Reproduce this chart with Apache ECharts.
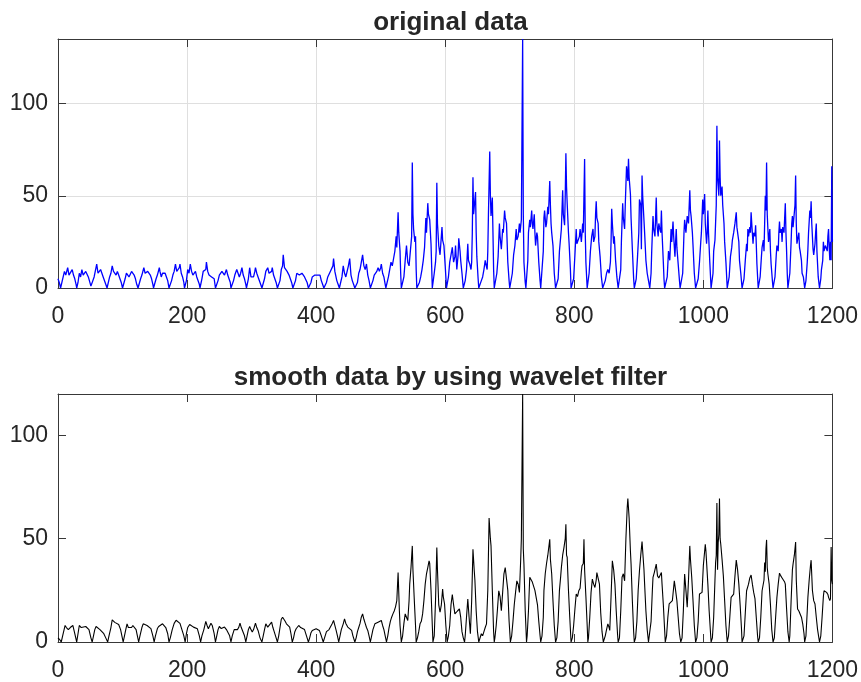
<!DOCTYPE html>
<html><head><meta charset="utf-8">
<script src="https://cdn.jsdelivr.net/npm/echarts@6/dist/echarts.min.js"></script>
<style>html,body{margin:0;padding:0;background:#fff}#c{width:861px;height:682px}</style>
</head><body><div id="c"></div>
<script>
// ---------- data ----------
const titles = ['original data', 'smooth data by using wavelet filter'];
const xTicks = [0, 200, 400, 600, 800, 1000, 1200];
const yTicksTop = [0, 50, 100];
const yTicksBottom = [0, 50, 100];
const yLimitTop = 135;
const yLimitBottom = 120;

const originalData = [
[0,5],[2,3],[4,0],[6,0],[8,6],[10,9],[12,7],[14,8],[15,11],[17,7],[18,6],[20,8],[22,10],[24,7],[26,5],[28,2],[29,0],
[30,0],[31,3],[33,8],[35,6],[37,10],[39,7],[41,7],[43,9],[45,9],[47,6],[49,5],[51,1],[53,0],
[54,0],[56,6],[58,7],[60,13],[62,8],[64,7],[66,10],[68,9],[70,6],[72,5],[74,2],[76,0],
[78,0],[80,6],[82,8],[84,12],[86,9],[88,9],[90,7],[92,9],[94,7],[96,5],[98,3],[100,0],
[102,0],[104,5],[106,8],[108,8],[110,6],[112,7],[114,9],[116,9],[118,7],[120,5],[122,2],[124,0],
[126,0],[128,5],[130,7],[133,11],[135,8],[137,8],[139,9],[141,10],[143,7],[145,5],[147,2],[148,0],
[150,0],[152,5],[154,7],[157,11],[158,9],[160,6],[162,8],[164,9],[166,8],[168,6],[170,4],[172,0],
[174,0],[176,4],[178,7],[180,9],[182,13],[184,9],[186,9],[188,11],[189,13],[191,8],[193,6],[195,3],[196,0],
[198,0],[199,4],[201,10],[203,8],[205,13],[207,9],[209,7],[211,8],[213,9],[215,6],[217,5],[219,2],[220,0],
[222,0],[223,5],[225,9],[227,8],[229,10],[230,14],[232,9],[234,7],[236,8],[238,6],[240,7],[242,5],[244,0],
[246,0],[248,4],[250,7],[252,6],[254,9],[256,8],[258,7],[260,8],[261,10],[263,7],[265,5],[267,3],[268,0],
[270,0],[272,4],[274,7],[277,10],[279,8],[281,6],[283,8],[285,11],[287,7],[289,5],[291,2],[292,0],
[294,0],[295,5],[297,11],[299,6],[301,7],[303,6],[305,9],[306,11],[308,8],[310,6],[312,5],[314,2],[316,0],
[318,0],[320,5],[322,9],[324,8],[325,11],[327,8],[329,8],[331,9],[332,11],[334,7],[336,6],[338,3],[340,0],
[342,0],[344,4],[346,10],[348,12],[349,18],[351,11],[353,10],[355,9],[356,10],[358,7],[360,6],[362,3],[364,0],
[366,0],[368,4],[370,8],[372,7],[374,7],[376,6],[378,8],[380,7],[382,6],[384,5],[386,3],[388,0],
[390,0],[392,3],[394,6],[396,5],[398,7],[400,8],[402,7],[404,6],[406,7],[408,4],[410,2],[412,0],
[414,0],[416,3],[418,6],[420,5],[422,9],[424,10],[426,12],[427,16],[429,9],[430,8],[432,4],[434,2],[436,0],
[438,0],[440,6],[442,12],[444,8],[446,6],[448,9],[450,12],[452,16],[454,7],[456,4],[458,2],[460,0],
[462,0],[464,3],[466,8],[468,10],[470,11],[472,18],[474,12],[476,10],[478,13],[480,7],[482,4],[484,0],
[486,0],[488,4],[490,7],[492,6],[494,9],[496,11],[498,9],[500,11],[501,13],[503,8],[505,6],[507,2],[508,0],
[510,0],[512,6],[514,10],[516,14],[518,12],[520,16],[522,20],[524,28],[525,22],[527,41],[528,30],[530,20],[531,8],[532,0],
[534,0],[536,6],[538,15],[540,23],[542,14],[544,12],[546,20],[548,28],[549,68],[550,40],[551,32],[553,25],[554,28],[555,10],[556,0],
[558,0],[560,3],[562,6],[564,10],[566,15],[568,22],[570,38],[571,30],[573,46],[574,40],[576,37],[578,24],[579,12],[580,0],
[582,0],[583,8],[585,14],[586,20],[587,57],[588,35],[590,23],[592,18],[593,17],[595,33],[596,26],[598,23],[600,12],[602,0],
[604,0],[605,6],[607,14],[609,18],[611,22],[613,14],[615,17],[616,23],[618,10],[620,18],[621,27],[623,20],[624,15],[626,8],[628,0],
[630,0],[631,4],[633,10],[635,24],[636,15],[638,13],[640,10],[641,14],[642,30],[643,60],[644,40],[645,39],[647,52],[648,30],[649,17],[651,5],[652,0],
[654,0],[656,4],[658,6],[660,10],[662,15],[663,13],[665,10],[666,20],[667,40],[669,74],[670,50],[671,39],[673,49],[674,30],[675,10],[676,0],
[678,0],[680,8],[682,17],[684,35],[685,28],[687,21],[689,32],[690,30],[692,42],[693,38],[695,35],[697,14],[699,4],[700,0],
[702,0],[704,8],[706,18],[708,23],[710,32],[711,26],[713,28],[715,35],[716,30],[718,37],[720,135],[721,40],[722,14],[724,3],[725,0],
[726,0],[728,15],[729,30],[731,37],[732,33],[734,42],[735,35],[736,32],[738,40],[739,30],[740,23],[742,30],[743,28],[745,14],[747,4],[748,0],
[750,0],[752,20],[753,38],[754,42],[756,33],[757,35],[759,44],[760,40],[762,58],[763,45],[764,35],[765,30],[767,23],[769,8],[771,0],
[773,0],[775,5],[777,20],[779,28],[780,32],[782,53],[783,40],[785,34],[786,50],[787,73],[788,55],[789,46],[791,30],[792,24],[794,10],[795,0],
[797,0],[799,5],[801,18],[803,32],[804,24],[806,23],[808,28],[809,32],[811,25],[813,35],[814,30],[815,50],[816,70],[817,30],[818,14],[820,0],
[821,0],[823,8],[825,20],[827,28],[829,32],[830,25],[832,28],[833,40],[834,47],[835,38],[837,35],[838,25],[840,17],[842,6],[844,0],
[846,0],[848,4],[850,8],[852,10],[854,8],[856,14],[857,25],[858,43],[859,35],[861,24],[862,28],[864,15],[866,6],[868,0],
[870,0],[872,10],[873,25],[875,46],[876,38],[878,32],[879,45],[881,66],[883,58],[884,70],[885,60],[887,51],[888,38],[890,21],[892,5],[893,0],
[894,0],[896,5],[898,17],[900,30],[901,48],[903,45],[904,21],[905,61],[906,50],[908,50],[909,30],[911,15],[913,8],[915,4],[917,0],
[918,0],[919,8],[920,20],[922,39],[923,32],[925,28],[926,38],[927,49],[928,35],[930,28],[931,35],[932,33],[934,30],[935,42],[936,30],[938,14],[939,5],[940,0],
[942,0],[944,6],[946,20],[948,15],[950,32],[951,25],[953,36],[954,28],[956,17],[957,25],[958,32],[959,22],[961,13],[963,4],[964,0],
[966,0],[968,8],[970,30],[971,37],[973,30],[975,39],[977,35],[979,53],[980,42],[981,39],[983,30],[984,23],[986,8],[988,0],
[990,0],[992,5],[994,14],[996,25],[997,30],[999,48],[1000,40],[1002,51],[1003,35],[1005,24],[1006,30],[1007,42],[1008,30],[1010,14],[1012,0],
[1014,0],[1015,8],[1016,20],[1018,26],[1020,45],[1021,88],[1022,60],[1023,59],[1024,50],[1025,80],[1026,60],[1027,50],[1029,55],[1030,45],[1032,35],[1033,25],[1035,14],[1037,0],
[1038,0],[1040,6],[1042,17],[1044,22],[1045,26],[1047,30],[1049,35],[1051,41],[1052,33],[1054,32],[1055,25],[1056,15],[1058,8],[1060,0],
[1062,0],[1063,5],[1065,15],[1067,24],[1068,20],[1069,32],[1070,28],[1072,33],[1073,30],[1074,41],[1075,35],[1077,24],[1078,30],[1080,28],[1081,34],[1082,24],[1083,13],[1085,0],
[1086,0],[1088,6],[1090,17],[1091,22],[1093,26],[1094,20],[1096,50],[1097,42],[1098,68],[1099,40],[1100,32],[1101,25],[1103,32],[1104,20],[1105,13],[1107,4],[1108,0],
[1110,0],[1111,6],[1113,18],[1114,23],[1116,20],[1117,30],[1118,36],[1119,30],[1121,32],[1122,25],[1123,33],[1125,30],[1126,38],[1127,46],[1128,30],[1129,20],[1130,8],[1131,0],
[1133,0],[1134,8],[1136,25],[1137,35],[1138,39],[1139,33],[1141,32],[1142,45],[1143,61],[1144,35],[1145,24],[1147,28],[1148,30],[1149,22],[1150,20],[1152,15],[1153,8],[1155,6],[1157,0],
[1158,0],[1159,4],[1161,14],[1162,21],[1163,30],[1165,42],[1166,38],[1167,47],[1168,35],[1170,21],[1171,18],[1173,24],[1174,30],[1175,35],[1176,20],[1178,6],[1180,0],
[1181,0],[1182,5],[1183,10],[1185,15],[1186,25],[1187,20],[1189,23],[1190,22],[1192,20],[1193,28],[1194,32],[1195,22],[1196,15],[1197,25],[1198,15],[1199,66],[1200,25]
];

const smoothData = [
[0,2],[3,1],[5,0],[8,4],[11,8],[13,7],[16,6],[19,7],[23,8],[26,4],[29,0],
[31,4],[33,8],[36,7],[39,7],[43,7.5],[46,7.5],[48,6],[51,2],[53,0],
[55,3],[57,6],[59,7.5],[62,7],[65,6],[68,5],[71,4],[74,2],[77,0],
[79,3],[82,7],[84,10.7],[86,10],[88,9.5],[91,9],[94,8.5],[97,6],[99,3],[101,0],
[103,3],[105,6],[107,8.8],[109,7],[111,6.4],[114,7],[116,8],[119,8.5],[121,6],[123,3],[125,0],
[127,3],[130,7],[132,8.8],[135,8.5],[138,8],[141,8],[144,6.5],[147,3],[149,0],
[151,3],[154,6.5],[156,7.5],[159,7],[162,8.8],[165,8],[167,7],[170,4],[172,0],
[174,2],[177,6],[180,9],[183,10.5],[186,11.2],[189,9],[192,6],[195,3],[197,0],
[199,4],[201,7],[204,8.5],[207,8],[210,7.2],[213,7],[216,6.4],[219,3],[221,0],
[223,3],[226,6],[229,10],[231,8],[233,6.4],[235,7],[237,9.1],[239,8],[242,4],[244,0],
[246,3],[248,6],[250,7.5],[253,6.5],[256,7],[258,7.2],[261,6],[263,5.6],[266,3],[268,0],
[270,3],[273,6],[276,6.9],[278,6],[280,7],[282,9.1],[284,7],[286,6.4],[289,3],[291,0],
[293,3],[295,6],[297,7.5],[299,6],[301,4.8],[303,6],[306,9.1],[308,7],[310,5.6],[313,2],[316,0],
[318,3],[320,6],[322,8.8],[325,7.2],[328,8],[331,9.6],[333,7],[335,5],[338,2],[340,0],
[342,3],[344,7],[346,11],[348,12],[350,12.8],[352,10],[354,8.8],[357,8],[359,7.2],[361,4],[363,0],
[365,2],[367,5],[369,6.4],[371,7],[373,8],[376,7],[379,6.4],[382,6],[384,5.6],[386,2],[388,0],
[390,2],[392,4.5],[394,5.6],[397,6],[400,6.4],[403,6],[405,5.6],[408,3],[411,0],
[413,2],[416,5],[418,5.6],[420,6],[422,6.4],[425,9],[427,10.4],[429,8],[431,5.6],[433,3],[435,0],
[437,3],[439,6],[442,8.8],[444,11.2],[446,9],[449,7.2],[452,6.5],[455,5.6],[457,3],[460,0],
[462,2],[464,5],[466,7],[468,9],[470,12],[472,13.6],[474,11],[476,9],[478,7],[480,5.6],[482,3],[484,0],
[486,3],[488,6],[491,8.8],[493,9],[496,9.6],[499,10],[501,10.4],[503,8],[505,6],[507,3],[509,0],
[511,3],[513,7],[515,10],[517,12],[519,13.6],[521,15],[523,17],[525,20],[527,33.6],[529,15],[530,8],[532,0],
[534,3],[536,9],[538,13.6],[540,12],[542,10.4],[544,20],[545,28],[547,36],[549,46.5],[550,35],[552,21],[554,8],[555,0],
[557,2],[559,5],[561,8.8],[563,10],[565,13.6],[567,20],[569,28],[571,33],[573,36],[575,39.3],[576,38],[578,25],[580,8],[581,0],
[583,3],[585,20],[587,45.7],[588,35],[590,18],[592,14.4],[594,18],[596,25.6],[597,22],[599,18.4],[601,8],[603,0],
[605,3],[607,8],[609,18],[611,23],[613,18],[615,13.6],[617,14],[619,15],[622,16],[624,12],[626,5],[628,2],[630,0],
[631,3],[633,12],[635,20.8],[637,12],[639,4],[641,20],[643,44.9],[645,34.5],[646,30],[648,15],[650,5],[652,0],
[654,0],[656,4],[658,3],[660,5],[662,7],[664,8.8],[666,25],[668,60],[670,50],[671,46.5],[673,25],[675,5],[676,0],
[677,2],[679,8],[681,16],[683,24.8],[685,22],[687,15.2],[689,24],[691,33],[693,36],[695,35.3],[697,25],[699,10],[701,0],
[703,3],[705,10],[707,18],[709,24],[711,29.6],[713,28],[715,24],[717,40],[718,50],[720,120],[721,45],[722,37.7],[724,15],[726,0],
[727,3],[729,15],[731,31.3],[733,32],[735,29],[737,28.8],[739,25],[741,24.8],[743,18],[745,10],[747,3],[748,0],
[750,3],[752,12],[753,25],[755,33],[757,38],[759,42],[762,49.7],[763,40],[765,33],[767,20],[769,8],[771,0],
[773,2],[775,10],[777,25],[779,32],[780,36],[782,42],[784,45.7],[786,50],[787,57],[788,42],[789,41],[791,25],[793,12],[795,0],
[797,2],[799,8],[801,16],[803,23.2],[805,22],[807,24.8],[809,26],[811,34],[812,36.9],[814,38],[815,49.7],[816,35],[818,22],[820,8],[821,0],
[822,2],[824,12],[826,24],[828,30.4],[830,28],[832,26.4],[834,30],[835,33.6],[837,33],[839,28],[841,14],[843,5],[845,0],
[846,0],[848,3],[850,6],[852,8.8],[854,7],[855,5.6],[857,22],[859,39.3],[861,35],[863,28],[865,15],[867,4],[868,0],
[870,2],[872,15],[874,31.3],[876,33],[878,29.6],[880,50],[882,65],[883,69.4],[885,60],[887,44],[888,37.7],[890,20],[892,5],[893,0],
[895,2],[897,10],[899,25],[901,34.5],[903,42],[905,48.6],[906,48],[908,35],[909,28],[911,15],[913,6],[915,0],
[917,0],[919,10],[921,25],[922,31.3],[924,33.6],[925,33],[927,37.7],[929,32],[931,31],[933,31.3],[935,33.6],[936,28],[938,18],[940,6],[941,0],
[943,3],[945,12],[947,18.4],[949,18],[950,17.6],[952,20],[953,23.2],[955,29.6],[957,25],[959,20],[961,12],[963,4],[965,0],
[967,2],[969,15],[971,32.9],[973,25],[975,16.8],[977,30],[979,46.5],[980,40],[982,31.3],[984,20],[986,8],[988,0],
[990,2],[992,10],[994,23.2],[996,24],[998,24],[1000,37],[1003,47.3],[1004,44],[1007,28],[1009,15],[1011,5],[1012,0],
[1014,2],[1016,12],[1018,30],[1019,38.5],[1020,42],[1021,67.3],[1022,35],[1023,48],[1024,52],[1025,69.4],[1026,50],[1027,47.3],[1029,40],[1031,32],[1033,20],[1035,8],[1037,0],
[1039,3],[1041,12],[1043,21.6],[1045,22],[1047,23.2],[1049,32],[1051,39.6],[1053,35],[1055,28],[1057,18],[1059,7],[1060,0],
[1063,3],[1065,14],[1067,24.8],[1070,28],[1072,31],[1074,32.4],[1076,28],[1078,24],[1080,21],[1082,12],[1084,3],[1085,0],
[1087,2],[1089,12],[1091,24.8],[1093,24],[1094,30],[1095,38.5],[1096,34],[1097,45],[1098,49.4],[1099,36],[1100,32.9],[1102,28],[1104,18],[1106,6],[1108,0],
[1110,2],[1112,12],[1114,21.6],[1116,28],[1118,33.3],[1120,32],[1122,31],[1124,31.3],[1126,29],[1127,28],[1129,16],[1131,5],[1133,0],
[1134,3],[1136,20],[1138,35],[1139,37.7],[1141,42],[1143,48.4],[1144,30],[1146,16],[1148,15],[1150,15.2],[1152,12],[1154,8.8],[1156,4],[1157,0],
[1159,3],[1161,15],[1162,21.6],[1164,30],[1166,37],[1167,39.6],[1169,25],[1171,20],[1173,18.4],[1175,12],[1177,6],[1179,2],[1180,0],
[1182,3],[1184,12],[1186,22],[1187,24.8],[1189,24],[1191,24],[1193,23],[1194,21.6],[1196,20],[1197,21],[1198,46],[1199,30],[1200,28]
];

// ---------- chart ----------
const TXT = '#262626';
const AXC = '#383838';
const GRIDC = '#dfdfdf';
const FONT = '"Liberation Sans", Arial, Helvetica, sans-serif';
const GRID_LEFT = 58, GRID_W = 775, GRID_H = 249;
const tops = [39, 394];

function xAxes(gi, showGrid) {
  const base = {
    gridIndex: gi, type: 'value', min: xTicks[0], max: xTicks[xTicks.length - 1],
    interval: xTicks[1] - xTicks[0],
    axisLine: { show: true, onZero: false, lineStyle: { color: AXC, width: 1 } },
    axisTick: { show: true, inside: true, length: 8, lineStyle: { color: AXC, width: 1 } }
  };
  return [
    Object.assign({}, base, {
      position: 'bottom',
      axisLabel: { show: true, margin: 17, fontSize: 23, color: TXT, fontFamily: FONT,
        formatter: v => xTicks.includes(v) ? String(v) : '' },
      splitLine: { show: showGrid, lineStyle: { color: GRIDC, width: 1 } }
    }),
    Object.assign({}, base, {
      position: 'top', axisLabel: { show: false }, splitLine: { show: false }
    })
  ];
}
function yAxes(gi, maxV, ticks, showGrid) {
  const base = {
    gridIndex: gi, type: 'value', min: 0, max: maxV, interval: ticks[1] - ticks[0],
    axisLine: { show: true, onZero: false, lineStyle: { color: AXC, width: 1 } },
    axisTick: { show: true, inside: true, length: 8, lineStyle: { color: AXC, width: 1 } }
  };
  return [
    Object.assign({}, base, {
      position: 'left',
      axisLabel: { show: true, margin: 10, fontSize: 23, color: TXT, fontFamily: FONT,
        padding: [6, 0, 0, 0], showMaxLabel: false,
        formatter: v => ticks.includes(v) ? String(v) : '' },
      splitLine: { show: showGrid, lineStyle: { color: GRIDC, width: 1 } }
    }),
    Object.assign({}, base, {
      position: 'right', axisLabel: { show: false }, splitLine: { show: false }
    })
  ];
}

const chart = echarts.init(document.getElementById('c'), null, { renderer: 'canvas' });
chart.setOption({
  animation: false,
  backgroundColor: '#ffffff',
  title: [
    { text: titles[0], left: GRID_LEFT + GRID_W / 2, top: 5, textAlign: 'center',
      textStyle: { fontFamily: FONT, fontSize: 26, fontWeight: 'bold', color: TXT } },
    { text: titles[1], left: GRID_LEFT + GRID_W / 2, top: 360, textAlign: 'center',
      textStyle: { fontFamily: FONT, fontSize: 26, fontWeight: 'bold', color: TXT } }
  ],
  grid: [
    { left: GRID_LEFT, top: tops[0], width: GRID_W, height: GRID_H, containLabel: false },
    { left: GRID_LEFT, top: tops[1], width: GRID_W, height: GRID_H, containLabel: false }
  ],
  xAxis: [].concat(xAxes(0, true), xAxes(1, false)),
  yAxis: [].concat(yAxes(0, yLimitTop, yTicksTop, true), yAxes(1, yLimitBottom, yTicksBottom, false)),
  series: [
    { type: 'line', xAxisIndex: 0, yAxisIndex: 0, data: originalData, showSymbol: false,
      lineStyle: { color: '#0000ff', width: 1.3 }, itemStyle: { color: '#0000ff' }, clip: true },
    { type: 'line', xAxisIndex: 2, yAxisIndex: 2, data: smoothData, showSymbol: false,
      lineStyle: { color: '#000000', width: 1.1 }, itemStyle: { color: '#000000' }, clip: true }
  ]
});
</script></body></html>
